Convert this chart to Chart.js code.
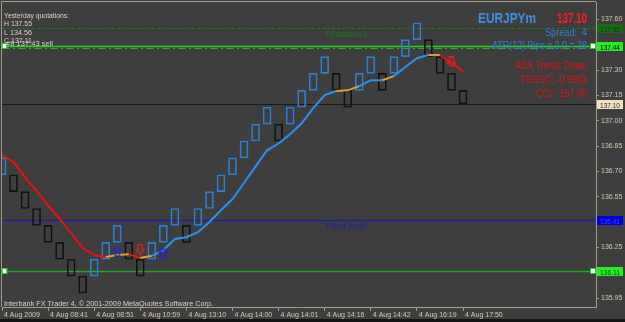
<!DOCTYPE html>
<html>
<head>
<meta charset="utf-8">
<script src="https://cdn.jsdelivr.net/npm/chart.js@4"></script>
<style>
  html, body { margin: 0; padding: 0; background: #3e3e3e; }
</style>
</head>
<body>
<canvas id="grafico" width="625" height="322"></canvas>
<script>
// Ladrillos renko (apertura / cierre), uno por posicion
const brickOpen = [136.68, 136.68, 136.58, 136.48, 136.38, 136.28, 136.18, 136.08, 136.08, 136.18,
  136.28, 136.28, 136.18, 136.18, 136.28, 136.38, 136.38, 136.38, 136.48, 136.58,
  136.68, 136.78, 136.88, 136.98, 136.98, 136.98, 137.08, 137.18, 137.28, 137.28,
  137.18, 137.18, 137.28, 137.28, 137.28, 137.38, 137.48, 137.48, 137.38, 137.28, 137.18];
const brickClose = [136.78, 136.58, 136.48, 136.38, 136.28, 136.18, 136.08, 135.98, 136.18, 136.28,
  136.38, 136.18, 136.08, 136.28, 136.38, 136.48, 136.28, 136.48, 136.58, 136.68,
  136.78, 136.88, 136.98, 137.08, 136.88, 137.08, 137.18, 137.28, 137.38, 137.18,
  137.08, 137.28, 137.38, 137.18, 137.38, 137.48, 137.58, 137.38, 137.28, 137.18, 137.10];

// Media movil y su tendencia por tramo (-1 baja, 0 plana, 1 sube)
const maLine = [136.797, 136.755, 136.665, 136.584, 136.498, 136.418, 136.335, 136.246, 136.205, 136.193,
  136.205, 136.21, 136.187, 136.20, 136.234, 136.30, 136.31, 136.34, 136.40, 136.47,
  136.536, 136.631, 136.73, 136.825, 136.866, 136.92, 136.985, 137.075, 137.152, 137.176,
  137.18, 137.205, 137.24, 137.24, 137.264, 137.318, 137.37, 137.389, 137.389, 137.34, 137.294];
const maTrend = [-1, -1, -1, -1, -1, -1, -1, -1, -1, 0, 0, -1, 0,
  1, 1, 1, 1, 1, 1, 1, 1, 1, 1, 1, 1, 1, 1, 1, 1,
  0, 0, 1, 1, 0, 1, 1, 1, 0, -1, -1];

// Flechas de senal
const upArrowX = [10, 14];
const upArrowY = [136.228, 136.216];
const dnArrowX = [12, 39];
const dnArrowY = [136.24, 137.348];

// Etiquetas de tiempo (cada 4 ladrillos) y del eje de precios
const tickIdx = [0, 4, 8, 12, 16, 20, 24, 28, 32, 36, 40];
const timeLabels = ['4 Aug 2009', '4 Aug 08:41', '4 Aug 08:51', '4 Aug 10:59', '4 Aug 13:10', '4 Aug 14:00',
  '4 Aug 14:01', '4 Aug 14:16', '4 Aug 14:42', '4 Aug 16:19', '4 Aug 17:50'];
const yTicks = [137.60, 137.45, 137.30, 137.15, 137.00, 136.85, 136.70, 136.55, 136.40, 136.25, 136.10, 135.95];

// Niveles horizontales
const levelPrices = [137.55, 137.44, 137.43, 137.10, 136.41, 136.11];
const levelNames = ['Resistance 1', '', '', '', 'Pivot level', ''];
const axisBoxPrices = [137.55, 137.44, 137.10, 136.41, 136.11];

const yesterdayLines = ['Yesterday quotations:', 'H 137.55', 'L 134.56', 'C 137.11'];
const orderText = '#8 137.43 sell';
const symbolName = 'EURJPYm';
const bidText = '137.10';
const infoBlue = ['Spread:', '4', 'ATR(12) Pips x 2.0 = 28'];
const infoRed = ['ADX Trend: Down', 'TGSSC: -0.9903', 'CCI: -157.00'];
const copyText = 'Interbank FX Trader 4, \u00a9 2001-2009 MetaQuotes Software Corp.';

const colorMarco = '#a39c8c';
const colorTexto = '#d2cab4';
const fuente = 'Liberation Sans';

const estilosNivel = [
  { color: '#1c7a1c', width: 1, dash: [3, 2] },
  { color: '#22d422', width: 1.5, dash: [] },
  { color: '#34a834', width: 1, dash: [8, 3, 2, 3] },
  { color: '#1a1a1a', width: 1, dash: [] },
  { color: '#2020a8', width: 1.5, dash: [] },
  { color: '#2aa02a', width: 1.5, dash: [] },
];
const estilosCaja = [
  { fill: '#176b17', text: '#0c3f0c' },
  { fill: '#22ee22', text: '#000000' },
  { fill: '#efe1c2', text: '#333333' },
  { fill: '#0000dc', text: '#3a3aff' },
  { fill: '#22ee22', text: '#0a5a0a' },
];

const texto = (ctx, s, x, y, color, size, align, ancho, peso) => {
  ctx.font = `${peso || ''} ${size}px "${fuente}"`;
  ctx.fillStyle = color;
  ctx.textAlign = align || 'left';
  ctx.textBaseline = 'alphabetic';
  ctx.fillText(s, x, y, ancho);
};

const flecha = (color, up) => {
  const c = document.createElement('canvas');
  c.width = 10; c.height = 11;
  const g = c.getContext('2d');
  g.strokeStyle = color;
  g.lineWidth = 1.2;
  const pts = [[5, 0.7], [9.3, 5], [7, 5], [7, 10.3], [3, 10.3], [3, 5], [0.7, 5]];
  g.beginPath();
  pts.forEach(([px, py], i) => {
    const yy = up ? py : 11 - py;
    i ? g.lineTo(px, yy) : g.moveTo(px, yy);
  });
  g.closePath();
  g.stroke();
  return c;
};

const fondo = {
  id: 'fondo',
  beforeDraw(chart) {
    const { ctx, width, height, chartArea: a } = chart;
    ctx.save();
    ctx.fillStyle = '#3e3e3e';
    ctx.fillRect(0, 0, width, height);
    ctx.fillStyle = '#141414';
    ctx.fillRect(0, 319, width, 3);
    ctx.strokeStyle = colorMarco;
    ctx.lineWidth = 1;
    ctx.beginPath();
    ctx.moveTo(a.left - 0.5, a.bottom);
    ctx.lineTo(a.left - 0.5, a.top - 0.5);
    ctx.lineTo(a.right, a.top - 0.5);
    ctx.stroke();
    ctx.restore();
  },
};

const niveles = {
  id: 'niveles',
  beforeDatasetsDraw(chart) {
    const { ctx, chartArea: a, scales: { x, y } } = chart;
    ctx.save();
    levelPrices.forEach((v, k) => {
      const st = estilosNivel[k];
      const py = Math.round(y.getPixelForValue(v)) + 0.5;
      ctx.strokeStyle = st.color;
      ctx.lineWidth = st.width;
      ctx.setLineDash(st.dash);
      ctx.beginPath();
      ctx.moveTo(a.left, py);
      ctx.lineTo(a.right, py);
      ctx.stroke();
      if (levelNames[k]) texto(ctx, levelNames[k], x.getPixelForValue(28.1), py + 8, st.color, 9, 'left', 42);
    });
    ctx.restore();
  },
  afterDraw(chart) {
    const { ctx, chartArea: a, scales: { y } } = chart;
    ctx.save();
    // cajas de precio en el eje
    axisBoxPrices.forEach((v, k) => {
      const py = Math.round(y.getPixelForValue(v));
      ctx.fillStyle = estilosCaja[k].fill;
      ctx.fillRect(a.right + 1, py - 4, 26, 9);
      texto(ctx, v.toFixed(2), a.right + 4, py + 3.5, estilosCaja[k].text, 7, 'left', 20);
    });
    // marcadores blancos en los extremos de las lineas verdes
    [137.44, 136.11].forEach(v => {
      const py = Math.round(y.getPixelForValue(v));
      [a.left + 2.5, a.right - 3].forEach(px => {
        ctx.fillStyle = '#ffffff';
        ctx.fillRect(px - 2, py - 2, 4, 4);
        ctx.strokeStyle = '#22d422';
        ctx.lineWidth = 1;
        ctx.strokeRect(px - 2.5, py - 2.5, 5, 5);
      });
    });
    // textos informativos
    yesterdayLines.forEach((s, i) => texto(ctx, s, 4, 18 + i * 8.4, '#ddd5c4', 8, 'left', i ? 28 : 65));
    texto(ctx, orderText, 6, 46, '#ddd5c4', 8, 'left', 47);
    texto(ctx, symbolName, 478, 23, '#3c8fe6', 14, 'left', 58, 'bold');
    texto(ctx, bidText, 587, 23, '#ff1c1c', 14, 'right', 30, 'bold');
    texto(ctx, infoBlue[0], 545, 36, '#2f7fd6', 10, 'left', 32);
    texto(ctx, infoBlue[1], 587, 36, '#2f7fd6', 10, 'right', 5);
    texto(ctx, infoBlue[2], 587, 49, '#2f7fd6', 10, 'right', 95);
    infoRed.forEach((s, i) => texto(ctx, s, 587, 69 + i * 14, '#e51212', 10, 'right', [72, 67, 51][i]));
    texto(ctx, copyText, 4, 306, '#ddd5c4', 8, 'left', 209);
    ctx.restore();
  },
};

const ctx = document.getElementById('grafico').getContext('2d');
new Chart(ctx, {
  type: 'bar',
  data: {
    datasets: [
      {
        type: 'line',
        order: 0,
        data: upArrowX.map((v, i) => ({ x: v, y: upArrowY[i] })),
        showLine: false,
        pointStyle: flecha('#2222dd', true),
        pointRadius: 5,
      },
      {
        type: 'line',
        order: 0,
        data: dnArrowX.map((v, i) => ({ x: v, y: dnArrowY[i] })),
        showLine: false,
        pointStyle: flecha('#ee2020', false),
        pointRadius: 5,
      },
      {
        type: 'line',
        order: 1,
        data: maLine.map((v, i) => ({ x: i, y: v })),
        borderWidth: 2,
        pointRadius: 0,
        tension: 0,
        borderColor: '#2a90f0',
        segment: {
          borderColor: c => maTrend[c.p0DataIndex] > 0 ? '#2a90f0' : maTrend[c.p0DataIndex] < 0 ? '#ee1010' : '#d9a030',
        },
      },
      {
        type: 'bar',
        order: 2,
        data: brickOpen.map((v, i) => ({ x: i, y: [v, brickClose[i]] })),
        backgroundColor: 'rgba(0,0,0,0)',
        borderColor: brickOpen.map((v, i) => brickClose[i] > v ? '#2a7fd2' : '#121212'),
        borderWidth: 1,
        borderSkipped: false,
        barThickness: 8,
      },
    ],
  },
  options: {
    responsive: false,
    animation: false,
    devicePixelRatio: 1,
    layout: { autoPadding: false, padding: { left: 2, top: 2, right: 0, bottom: 0 } },
    plugins: { legend: { display: false }, tooltip: { enabled: false } },
    scales: {
      x: {
        type: 'linear',
        offset: false,
        min: 0,
        max: 51.54,
        afterBuildTicks: s => { s.ticks = tickIdx.map(v => ({ value: v })); },
        afterFit: s => { s.height = 15; s.paddingLeft = 0; s.paddingRight = 0; },
        ticks: {
          color: colorTexto,
          font: { family: fuente, size: 7 },
          align: 'start',
          labelOffset: 2,
          padding: 0,
          maxRotation: 0,
          autoSkip: false,
          callback: v => timeLabels[tickIdx.indexOf(v)],
        },
        grid: { drawOnChartArea: false, offset: false, color: colorMarco, tickLength: 4 },
        border: { color: colorMarco },
      },
      y: {
        position: 'right',
        min: 135.897,
        max: 137.703,
        afterBuildTicks: s => { s.ticks = yTicks.map(v => ({ value: v })); },
        afterFit: s => { s.width = 29; s.paddingTop = 0; s.paddingBottom = 0; },
        ticks: {
          color: colorTexto,
          font: { family: fuente, size: 7 },
          padding: 2,
          callback: v => v.toFixed(2),
        },
        grid: { drawOnChartArea: false, color: colorMarco, tickLength: 3 },
        border: { color: colorMarco },
      },
    },
  },
  plugins: [fondo, niveles],
});
</script>
</body>
</html>
